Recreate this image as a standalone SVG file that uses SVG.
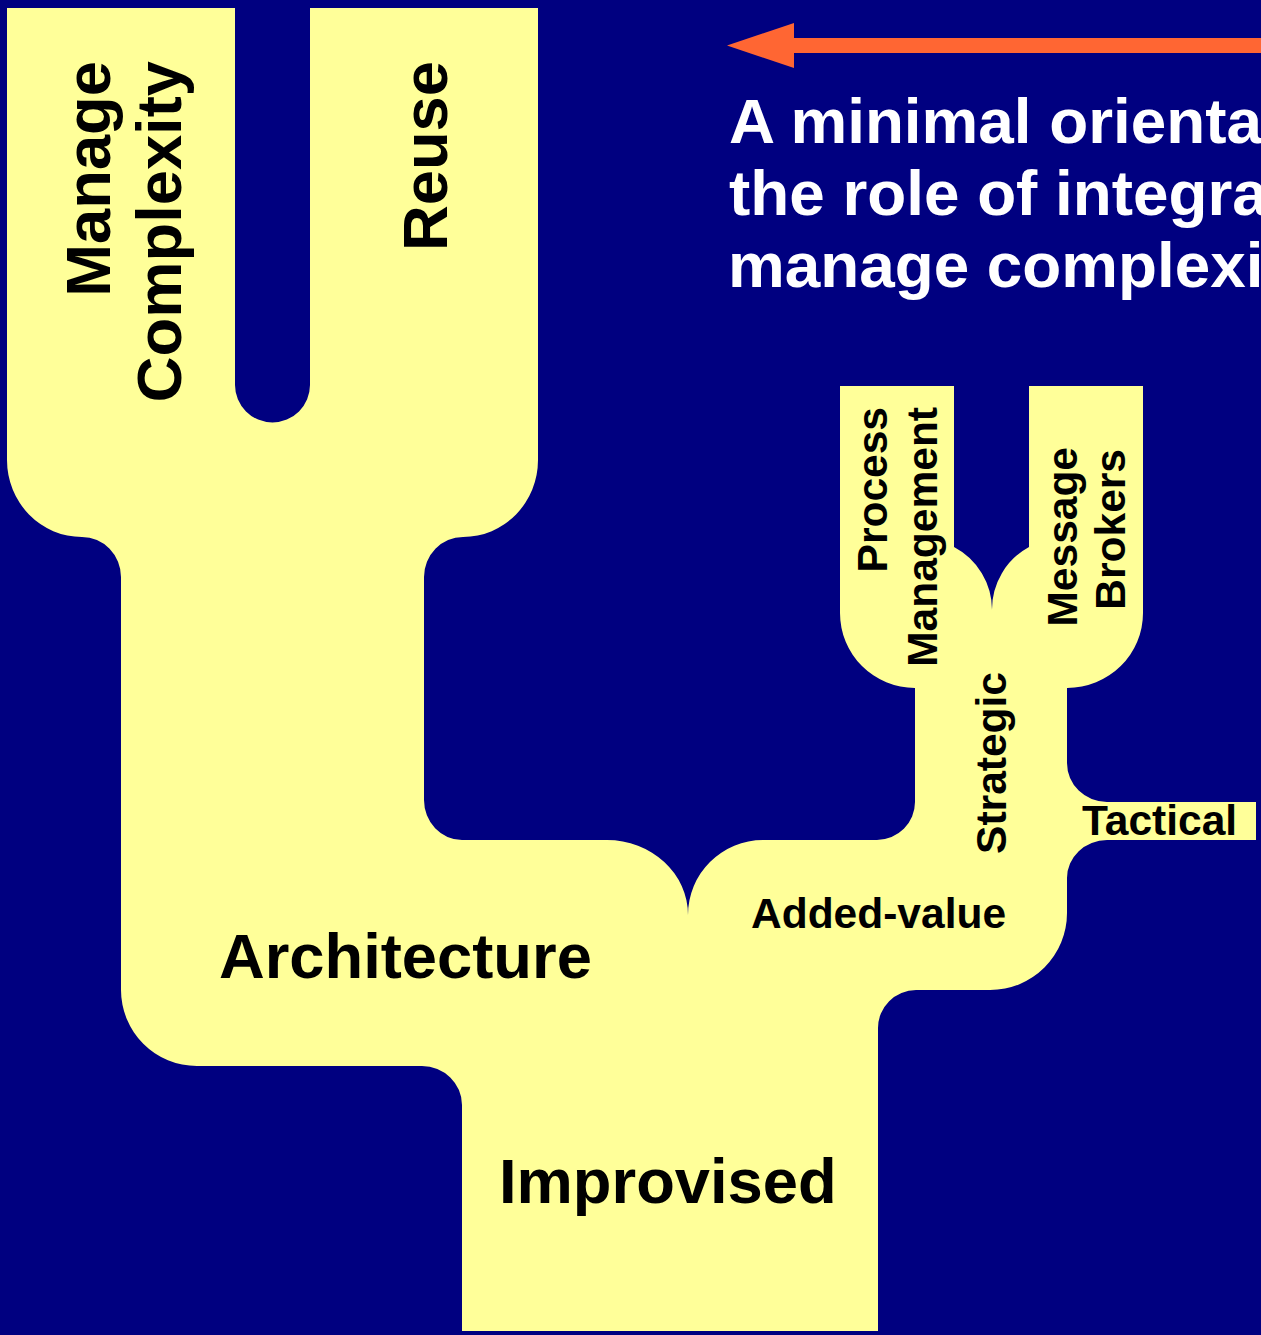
<svg xmlns="http://www.w3.org/2000/svg" width="1261" height="1335" viewBox="0 0 1261 1335">
<style>
.bg{fill:#000080}
.shape{fill:#FFFF99}
.lbl{font-family:"Liberation Sans",Arial,sans-serif;font-weight:bold;fill:#000000}
.big{font-size:63.3px}
.small{font-size:42.5px}
.title{font-family:"Liberation Sans",Arial,sans-serif;font-weight:bold;font-size:63.8px;fill:#FFFFFF}
.arrow{fill:#FF6633}
</style>
<rect class="bg" x="0" y="0" width="1261" height="1335"/>
<g id="tree">
<path class="shape" d="M7 8 L235 8 L235 385 A37.5 37.5 0 0 0 310 385 L310 8 L538 8 L538 460 A75 77 0 0 1 463 537 A39 40 0 0 0 424 577 L424 800 A38 40 0 0 0 462 840 L607 840 A81 75 0 0 1 688 915 A75 75 0 0 1 763 840 L877 840 A38 38 0 0 0 915 802 L915 688 A75 75 0 0 1 840 613 L840 386 L954 386 L954 547 A71 71 0 0 1 992 610 A71 71 0 0 1 1029 547 L1029 386 L1143 386 L1143 613 A76 75 0 0 1 1067 688 L1067 763 A40 39 0 0 0 1107 802 L1256 802 L1256 840 L1107 840 A40 38 0 0 0 1067 878 L1067 913 A77 77 0 0 1 990 990 L916 990 A38 38 0 0 0 878 1028 L878 1331 L462 1331 L462 1105 A40 39 0 0 0 422 1066 L197 1066 A76 76 0 0 1 121 990 L121 577 A39 40 0 0 0 82 537 A75 77 0 0 1 7 460 Z"/>
</g>
<g id="node-manage-complexity">
<text class="lbl big" text-anchor="end" transform="translate(110,61) rotate(-90)">Manage</text>
<text class="lbl big" text-anchor="end" transform="translate(181,61) rotate(-90)">Complexity</text>
</g>
<g id="node-reuse">
<text class="lbl big" text-anchor="end" transform="translate(447,61) rotate(-90)">Reuse</text>
</g>
<g id="node-architecture">
<text class="lbl big" x="219" y="978">Architecture</text>
</g>
<g id="node-improvised">
<text class="lbl big" x="499" y="1203">Improvised</text>
</g>
<g id="node-added-value">
<text class="lbl small" x="751" y="928">Added-value</text>
</g>
<g id="node-strategic">
<text class="lbl small" text-anchor="end" transform="translate(1006,672) rotate(-90)">Strategic</text>
</g>
<g id="node-tactical">
<text class="lbl small" x="1082" y="835">Tactical</text>
</g>
<g id="node-process-management">
<text class="lbl small" text-anchor="end" transform="translate(887,407) rotate(-90)">Process</text>
<text class="lbl small" text-anchor="end" transform="translate(937,407) rotate(-90)">Management</text>
</g>
<g id="node-message-brokers">
<text class="lbl small" text-anchor="end" transform="translate(1077,447) rotate(-90)">Message</text>
<text class="lbl small" text-anchor="end" transform="translate(1125,449) rotate(-90)">Brokers</text>
</g>
<g id="connectors">
<rect class="arrow" x="793" y="38" width="468" height="15"/>
<polygon class="arrow" points="727,45.5 794,23 794,68"/>
</g>
<g id="title">
<text class="title" x="729" y="143">A minimal orienta</text>
<text class="title" x="729" y="215">the role of integra</text>
<text class="title" x="728" y="287">manage complexi</text>
</g>
</svg>
